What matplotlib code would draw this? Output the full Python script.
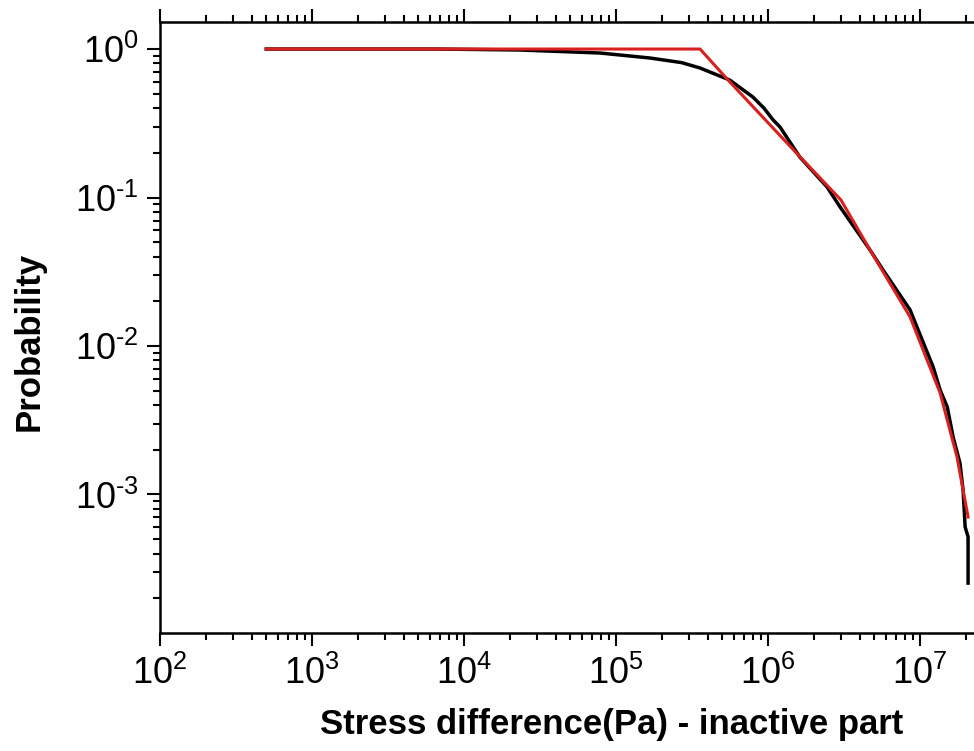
import matplotlib
matplotlib.use("Agg")
import matplotlib.pyplot as plt
import numpy as np
from matplotlib.ticker import LogLocator, NullFormatter, FixedLocator

plt.rcParams["font.family"] = ["Liberation Sans", "DejaVu Sans"]
plt.rcParams["mathtext.fontset"] = "custom"
plt.rcParams["mathtext.rm"] = "Liberation Sans"
plt.rcParams["mathtext.it"] = "Liberation Sans"

# read-off points of the measured distribution (black)
data_x = [5.0e2, 6.6e3, 2.33e4, 7.85e4, 1.67e5, 2.7e5, 3.57e5, 5.6e5, 7.95e5,
          9.4e5, 1.08e6, 1.2e6, 1.62e6, 2.44e6, 2.98e6, 4.69e6, 5.71e6, 8.6e6,
          9.55e6, 1.22e7, 1.355e7, 1.51e7, 1.65e7, 1.83e7, 1.92e7, 1.98e7,
          2.07e7, 2.07e7]
data_y = [1.0, 1.0, 0.985, 0.94, 0.87, 0.81, 0.745, 0.618, 0.475,
          0.40, 0.333, 0.298, 0.187, 0.118, 0.0863, 0.0443, 0.0325, 0.0175,
          0.0134, 0.00722, 0.00506, 0.00389, 0.00244, 0.00163, 0.00107, 6.04e-4,
          5.18e-4, 2.53e-4]

# read-off points of the fitted model (red)
fit_x = [5.0e2, 3.57e5, 5.46e5, 1.65e6, 3.02e6, 4.69e6, 8.6e6, 1.355e7,
         1.75e7, 2.07e7]
fit_y = [1.0, 1.0, 0.618, 0.1845, 0.0962, 0.0443, 0.01568, 0.00483,
         0.00179, 7.05e-4]

x_exps = [2, 3, 4, 5, 6, 7]
y_exps = [-3, -2, -1, 0]

fig = plt.figure(figsize=(9.74, 7.51), dpi=100)
ax = fig.add_axes([160 / 974, (751 - 633) / 751, (974 - 160) / 974, (633 - 22) / 751])

ax.plot(data_x, data_y, color="black", linewidth=2.5, zorder=2)
ax.plot(fit_x, fit_y, color="#d8201e", linewidth=2.2, zorder=3)

ax.set_xscale("log")
ax.set_yscale("log")
ax.set_xlim(1e2, 10 ** 7.355)
ax.set_ylim(10 ** -3.933, 10 ** 0.182)


def pow_label(e):
    s = str(e).replace("-", r"\text{-}")
    return r"$\mathregular{10^{%s}}$" % s


ax.xaxis.set_major_locator(FixedLocator([10.0 ** e for e in x_exps]))
ax.yaxis.set_major_locator(FixedLocator([10.0 ** e for e in y_exps]))
ax.xaxis.set_minor_locator(LogLocator(base=10, subs=np.arange(2, 10), numticks=20))
ax.yaxis.set_minor_locator(LogLocator(base=10, subs=np.arange(2, 10), numticks=20))
ax.xaxis.set_minor_formatter(NullFormatter())
ax.yaxis.set_minor_formatter(NullFormatter())
ax.set_xticklabels([pow_label(e) for e in x_exps])
ax.set_yticklabels([pow_label(e) for e in y_exps])

for s in ["left", "bottom", "top"]:
    ax.spines[s].set_linewidth(1.8)
ax.spines["right"].set_visible(False)

ax.tick_params(which="both", direction="out", top=True, right=False, width=1.5)
ax.tick_params(which="major", length=9.5, labelsize=26)
ax.tick_params(which="minor", length=5)
ax.tick_params(axis="x", which="major", pad=7)
ax.tick_params(axis="y", which="major", pad=6)

ax.set_xlabel("Stress difference(Pa) - inactive part", fontsize=25,
              fontweight="bold")
ax.set_ylabel("Probability", fontsize=25, fontweight="bold")
# the original panel was wider than this crop, so labels sit off-centre
ax.xaxis.set_label_coords(0.555, -0.122)
ax.yaxis.set_label_coords(-0.141, 0.478)

fig.savefig("out.png", dpi=100)
